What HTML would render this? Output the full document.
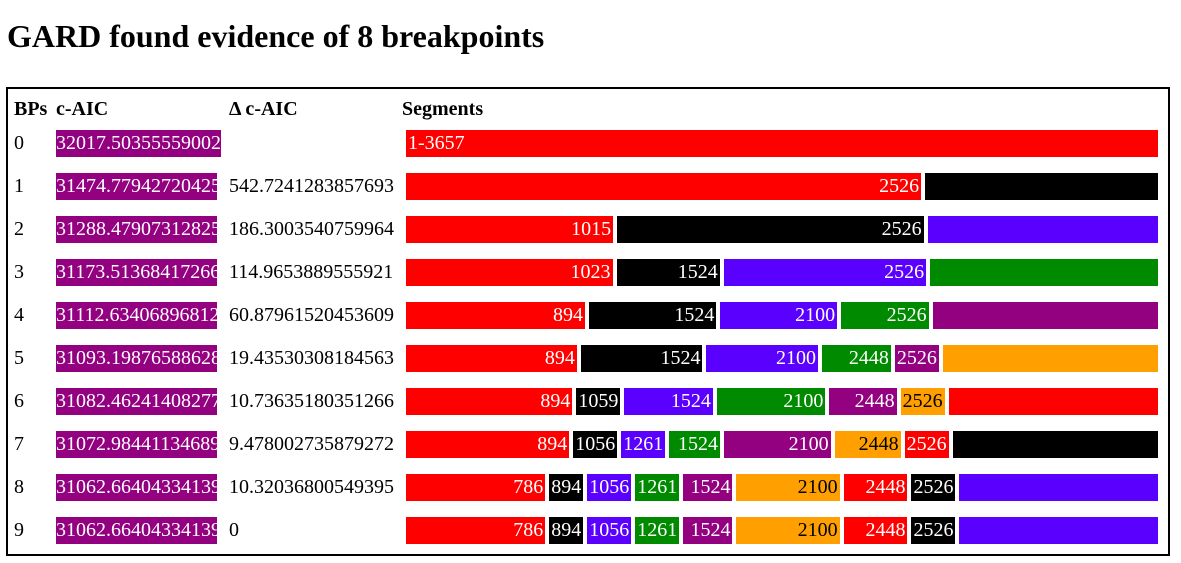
<!DOCTYPE html>
<html><head><meta charset="utf-8">
<style>
body{margin:0;background:#fff;font-family:"Liberation Serif",serif;width:1181px;height:563px;overflow:hidden;position:relative}
h1{position:absolute;left:7px;top:17px;margin:0;font-size:32px;font-weight:bold;line-height:38px}
#box{position:absolute;left:6px;top:87px;width:1160px;height:465px;border:2px solid #000}
.hdr{position:absolute;top:8px;font-size:20px;font-weight:bold;line-height:24px}
.cell{position:absolute;font-size:20px;line-height:27px;white-space:nowrap}
.aic{background:#930080;color:#fff;overflow:hidden;width:161px;height:27px}
.segs{position:absolute;left:398px;width:752px;height:27px;display:flex;gap:4px}
.seg{flex-shrink:1;flex-basis:0;min-width:max-content;height:27px;font-size:20px;line-height:27px;color:#fff;text-align:right;padding:0 2px;box-sizing:border-box;white-space:nowrap}
</style></head><body>
<h1>GARD found evidence of 8 breakpoints</h1>
<div id="box">
<div class="hdr" style="left:6px">BPs</div>
<div class="hdr" style="left:48px">c-AIC</div>
<div class="hdr" style="left:221px">Δ c-AIC</div>
<div class="hdr" style="left:394px">Segments</div>
</div>
<script>
const total=3657;
const bpCounts=[0,1,2,3,4,5,6,7,8,9];
const caic=["32017.50355559002","31474.77942720425","31288.47907312825","31173.51368417266","31112.63406896812","31093.19876588628","31082.46241408277","31072.98441134689","31062.66404334139","31062.66404334139"];
const dcaic=["","542.7241283857693","186.3003540759964","114.9653889555921","60.87961520453609","19.43530308184563","10.73635180351266","9.478002735879272","10.32036800549395","0"];
const breakpoints=[[],[2526],[1015,2526],[1023,1524,2526],[894,1524,2100,2526],[894,1524,2100,2448,2526],[894,1059,1524,2100,2448,2526],[894,1056,1261,1524,2100,2448,2526],[786,894,1056,1261,1524,2100,2448,2526],[786,894,1056,1261,1524,2100,2448,2526]];
const colors=["#ff0000","#000000","#5a00ff","#008a00","#930080","#ffa000"];
const box=document.getElementById('box');
bpCounts.forEach((n,i)=>{
  const top=41+i*43;
  const a=document.createElement('div');a.className='cell';a.style.left='6px';a.style.top=top+'px';a.textContent=n;
  
  
  box.appendChild(a);
  const b=document.createElement('div');b.className='cell aic';b.style.left='48px';b.style.top=top+'px';b.textContent=caic[i];
  if(i===0)b.style.width='165px';
  
  
  box.appendChild(b);
  const c=document.createElement('div');c.className='cell';c.style.left='221px';c.style.top=top+'px';c.textContent=dcaic[i];
  
  
  box.appendChild(c);
  const s=document.createElement('div');s.className='segs';s.style.top=top+'px';
  
  
  const bps=breakpoints[i];
  let prev=0;
  const ends=bps.concat([total]);
  ends.forEach((e,k)=>{
    const d=document.createElement('div');d.className='seg';
    d.style.flexGrow=(e-prev);
    const col=colors[k%colors.length];
    d.style.background=col;
    if(col==="#ffa000")d.style.color="#000";
    if(bps.length===0){d.textContent='1-'+total;d.style.textAlign='left';}
    else if(k<bps.length)d.textContent=e;
    
    
    s.appendChild(d);prev=e;
  });
  box.appendChild(s);
});
</script>
</body></html>
